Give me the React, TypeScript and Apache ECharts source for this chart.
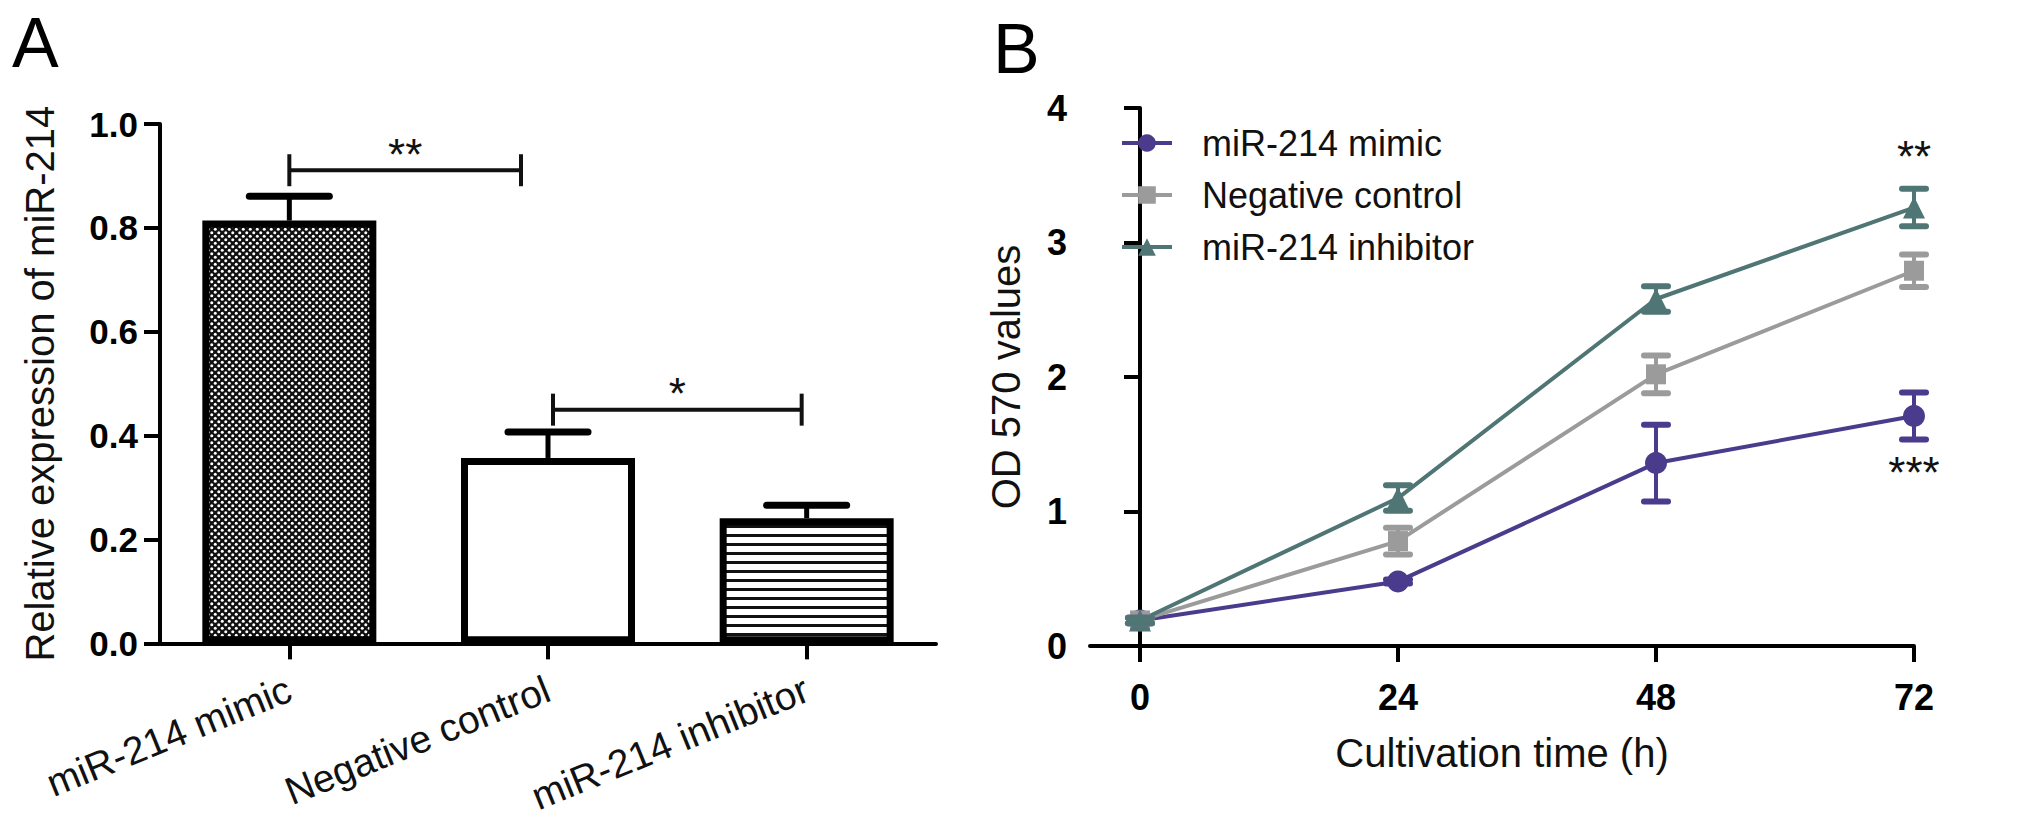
import React, { useEffect, useRef } from 'react';
import * as echarts from 'echarts';

// Panel A: relative expression of miR-214
const groups = ['miR-214 mimic', 'Negative control', 'miR-214 inhibitor'];
const expression = [0.814, 0.357, 0.241];
const expressionErr = [0.047, 0.05, 0.025];

// significance brackets in panel A
const bracketFrom = [0, 1];
const bracketTo = [1, 2];
const bracketHeight = [0.911, 0.45];
const bracketMarks = ['**', '*'];

// Panel B: OD 570 over cultivation time
const hours = [0, 24, 48, 72];
const mimicOD = [0.19, 0.48, 1.36, 1.71];
const mimicErr = [0.02, 0.015, 0.285, 0.175];
const controlOD = [0.19, 0.78, 2.02, 2.79];
const controlErr = [0.02, 0.1, 0.14, 0.12];
const inhibitorOD = [0.19, 1.1, 2.58, 3.26];
const inhibitorErr = [0.02, 0.095, 0.095, 0.14];

const starHours = [72, 72];
const starHeights = [3.64, 1.29];
const starMarks = ['**', '***'];

const FONT = '"Liberation Sans", Arial, sans-serif';
const PURPLE = '#4a3b8c';
const GREY = '#9b9b9b';
const TEAL = '#4f7575';

function dotTile() {
  const c = document.createElement('canvas');
  c.width = 7;
  c.height = 7;
  const ctx = c.getContext('2d')!;
  ctx.fillStyle = '#111';
  ctx.fillRect(0, 0, 7, 7);
  ctx.fillStyle = '#fff';
  [[1.75, 1.75], [5.25, 5.25]].forEach(([x, y]) => {
    ctx.beginPath();
    ctx.arc(x, y, 1.5, 0, Math.PI * 2);
    ctx.fill();
  });
  return c;
}

function lineTile() {
  const c = document.createElement('canvas');
  c.width = 6;
  c.height = 9;
  const ctx = c.getContext('2d')!;
  ctx.fillStyle = '#fff';
  ctx.fillRect(0, 0, 6, 9);
  ctx.fillStyle = '#111';
  ctx.fillRect(0, 3, 6, 3);
  return c;
}

const axisLine = { show: true, lineStyle: { color: '#000', width: 4 } };
const axisTick = { show: true, length: 16, lineStyle: { color: '#000', width: 4 } };
const nameStyle = { fontSize: 40, color: '#111', fontFamily: FONT };

function errorSeries(name: string, color: string, means: number[], errs: number[]) {
  return {
    name,
    type: 'custom',
    xAxisIndex: 1,
    yAxisIndex: 1,
    z: 4,
    encode: { x: 0, y: [1, 2] },
    data: hours.map((h, i) => [h, means[i] - errs[i], means[i] + errs[i]]),
    renderItem: (params: any, api: any) => {
      const lo = api.coord([api.value(0), api.value(1)]);
      const hi = api.coord([api.value(0), api.value(2)]);
      const st = { stroke: color, lineWidth: 6, lineCap: 'round' };
      return {
        type: 'group',
        children: [
          { type: 'line', shape: { x1: lo[0], y1: lo[1], x2: hi[0], y2: hi[1] }, style: { stroke: color, lineWidth: 4 } },
          { type: 'line', shape: { x1: hi[0] - 12, y1: hi[1], x2: hi[0] + 12, y2: hi[1] }, style: st },
          { type: 'line', shape: { x1: lo[0] - 12, y1: lo[1], x2: lo[0] + 12, y2: lo[1] }, style: st },
        ],
      };
    },
  };
}

function lineSeries(name: string, color: string, values: number[], symbol: string, size: number) {
  return {
    name,
    type: 'line',
    xAxisIndex: 1,
    yAxisIndex: 1,
    z: 3,
    symbol,
    symbolSize: size,
    data: hours.map((h, i) => [h, values[i]]),
    lineStyle: { color, width: 4 },
    itemStyle: { color },
  };
}

const App: React.FC = () => {
  const chartRef = useRef<HTMLDivElement>(null);

  useEffect(() => {
    document.body.style.margin = '0';
    if (!chartRef.current) return;

    const fills = [
      { image: dotTile(), repeat: 'repeat' },
      '#ffffff',
      { image: lineTile(), repeat: 'repeat' },
    ];

    const bracketInset = [[0, 27], [5, 5]];

    const option = {
      animation: false,
      backgroundColor: '#fff',
      textStyle: { fontFamily: FONT },
      graphic: [
        { type: 'text', left: 12, top: 8, style: { text: 'A', font: '70px ' + FONT, fill: '#000' } },
        { type: 'text', left: 993, top: 14, style: { text: 'B', font: '70px ' + FONT, fill: '#000' } },
      ],
      legend: {
        data: ['miR-214 mimic', 'Negative control', 'miR-214 inhibitor'],
        orient: 'vertical',
        left: 1115,
        top: 120,
        itemWidth: 50,
        itemHeight: 22,
        itemGap: 16,
        lineStyle: { width: 4 },
        textStyle: { fontSize: 36, color: '#111', fontFamily: FONT, padding: [0, 0, 0, 25] },
      },
      grid: [
        { left: 160, top: 124, width: 776, height: 526 },
        { left: 1090, top: 108, width: 824, height: 538 },
      ],
      xAxis: [
        {
          type: 'category',
          gridIndex: 0,
          data: groups,
          axisLine,
          axisTick: { ...axisTick, alignWithLabel: true },
          axisLabel: { interval: 0, rotate: 22, margin: 44, fontSize: 39, color: '#111', fontFamily: FONT },
          splitLine: { show: false },
        },
        {
          type: 'value',
          gridIndex: 1,
          min: -4.65,
          max: 72,
          axisLine,
          axisTick: { ...axisTick, customValues: hours },
          axisLabel: { customValues: hours, fontSize: 36, fontWeight: 'bold', color: '#000', margin: 33, fontFamily: FONT },
          splitLine: { show: false },
          name: 'Cultivation time (h)',
          nameLocation: 'middle',
          nameGap: 87,
          nameTextStyle: nameStyle,
        },
      ],
      yAxis: [
        {
          type: 'value',
          gridIndex: 0,
          min: 0,
          max: 1,
          interval: 0.2,
          axisLine,
          axisTick,
          axisLabel: {
            formatter: (v: number) => v.toFixed(1),
            fontSize: 35,
            fontWeight: 'bold',
            color: '#000',
            margin: 22,
            fontFamily: FONT,
          },
          splitLine: { show: false },
          name: 'Relative expression of miR-214',
          nameLocation: 'middle',
          nameRotate: 90,
          nameGap: 100,
          nameTextStyle: nameStyle,
        },
        {
          type: 'value',
          gridIndex: 1,
          min: 0,
          max: 4,
          interval: 1,
          axisLine,
          axisTick,
          axisLabel: { fontSize: 36, fontWeight: 'bold', color: '#000', margin: 23, fontFamily: FONT },
          splitLine: { show: false },
          name: 'OD 570 values',
          nameLocation: 'middle',
          nameRotate: 90,
          nameGap: 64,
          nameTextStyle: nameStyle,
        },
      ],
      series: [
        {
          name: 'Relative expression',
          type: 'bar',
          xAxisIndex: 0,
          yAxisIndex: 0,
          barWidth: 174,
          data: expression.map((v, i) => ({
            value: v,
            itemStyle: { color: fills[i], borderColor: '#000', borderWidth: 7 },
          })),
        },
        {
          name: 'expression error',
          type: 'custom',
          xAxisIndex: 0,
          yAxisIndex: 0,
          z: 3,
          encode: { x: 0, y: [1, 2] },
          data: expression.map((v, i) => [i, v, v + expressionErr[i]]),
          renderItem: (params: any, api: any) => {
            const base = api.coord([api.value(0), api.value(1)]);
            const top = api.coord([api.value(0), api.value(2)]);
            return {
              type: 'group',
              children: [
                { type: 'line', shape: { x1: base[0], y1: base[1], x2: top[0], y2: top[1] }, style: { stroke: '#000', lineWidth: 5 } },
                { type: 'line', shape: { x1: top[0] - 40, y1: top[1], x2: top[0] + 40, y2: top[1] }, style: { stroke: '#000', lineWidth: 7, lineCap: 'round' } },
              ],
            };
          },
        },
        {
          name: 'brackets',
          type: 'custom',
          xAxisIndex: 0,
          yAxisIndex: 0,
          z: 3,
          encode: { x: [0, 1], y: 2 },
          data: bracketFrom.map((f, i) => [f, bracketTo[i], bracketHeight[i]]),
          renderItem: (params: any, api: any) => {
            const p1 = api.coord([api.value(0), api.value(2)]);
            const p2 = api.coord([api.value(1), api.value(2)]);
            const inset = bracketInset[params.dataIndex];
            const x1 = p1[0] + inset[0];
            const x2 = p2[0] - inset[1];
            const y = p1[1];
            const st = { stroke: '#111', lineWidth: 4 };
            return {
              type: 'group',
              children: [
                { type: 'line', shape: { x1, y1: y, x2, y2: y }, style: st },
                { type: 'line', shape: { x1, y1: y - 16, x2: x1, y2: y + 16 }, style: st },
                { type: 'line', shape: { x1: x2, y1: y - 16, x2, y2: y + 16 }, style: st },
                {
                  type: 'text',
                  x: (x1 + x2) / 2,
                  y: y - 16,
                  style: { text: bracketMarks[params.dataIndex], font: '44px ' + FONT, fill: '#111', align: 'center', verticalAlign: 'middle' },
                },
              ],
            };
          },
        },
        errorSeries('mimic error', PURPLE, mimicOD, mimicErr),
        errorSeries('control error', GREY, controlOD, controlErr),
        errorSeries('inhibitor error', TEAL, inhibitorOD, inhibitorErr),
        lineSeries('miR-214 mimic', PURPLE, mimicOD, 'circle', 22),
        lineSeries('Negative control', GREY, controlOD, 'rect', 20),
        lineSeries('miR-214 inhibitor', TEAL, inhibitorOD, 'triangle', 22),
        {
          name: 'stars',
          type: 'custom',
          xAxisIndex: 1,
          yAxisIndex: 1,
          z: 5,
          encode: { x: 0, y: 1 },
          data: starHours.map((h, i) => [h, starHeights[i]]),
          renderItem: (params: any, api: any) => {
            const p = api.coord([api.value(0), api.value(1)]);
            return {
              type: 'text',
              x: p[0],
              y: p[1],
              style: { text: starMarks[params.dataIndex], font: '44px ' + FONT, fill: '#111', align: 'center', verticalAlign: 'middle' },
            };
          },
        },
      ],
    };

    const chart = echarts.init(chartRef.current, null, { renderer: 'svg' });
    chart.setOption(option as any);
    return () => {
      chart.dispose();
    };
  }, []);

  return <div ref={chartRef} style={{ width: 2031, height: 817 }} />;
};

export default App;
